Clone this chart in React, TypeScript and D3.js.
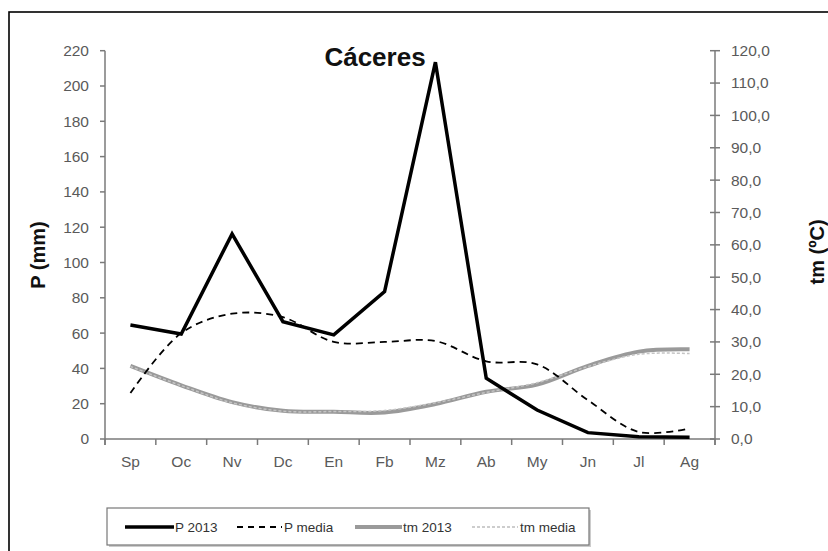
import React from "react";
import * as d3 from "d3";

const months = ["Sp", "Oc", "Nv", "Dc", "En", "Fb", "Mz", "Ab", "My", "Jn", "Jl", "Ag"];
const p2013 = [64.6, 59.5, 116.2, 66.5, 59, 83.5, 213.5, 34.4, 16.4, 3.6, 1.3, 1];
const pMedia = [26, 60, 71, 69, 55, 55, 55.5, 44, 42.3, 22, 4, 6];
const tm2013 = [22.6, 16.6, 11.4, 8.7, 8.4, 8.2, 10.8, 14.6, 16.8, 22.6, 27.0, 27.7];
const tmMedia = [22.4, 16.5, 11.2, 8.6, 8.5, 8.8, 11.2, 14.4, 17.4, 22.4, 26.2, 26.4];
const pTicks = [0, 20, 40, 60, 80, 100, 120, 140, 160, 180, 200, 220];
const tTicks = [0, 10, 20, 30, 40, 50, 60, 70, 80, 90, 100, 110, 120];
const legendItems = ["P 2013", "P media", "tm 2013", "tm media"];

export default function App() {
  const W = 828, H = 551;
  const left = 105, right = 715, top = 50.7, bottom = 439;
  const x = d3.scaleBand<string>().domain(months).range([left, right]);
  const yP = d3.scaleLinear().domain([0, 220]).range([bottom, top]);
  const yT = d3.scaleLinear().domain([0, 120]).range([bottom, top]);
  const cx = (i: number) => (x(months[i]) as number) + x.bandwidth() / 2;

  const lineLin = (vals: number[], y: d3.ScaleLinear<number, number>) =>
    d3.line<number>().x((_, i) => cx(i)).y((v) => y(v)).curve(d3.curveLinear)(vals) as string;
  const lineSmooth = (vals: number[], y: d3.ScaleLinear<number, number>) =>
    d3.line<number>().x((_, i) => cx(i)).y((v) => y(v)).curve(d3.curveCatmullRom.alpha(0.5))(vals) as string;

  const axisColor = "#7a7a7a";
  const tickText = "#5a5a5a";
  const font = "Arial, 'Liberation Sans', sans-serif";

  const bandEdges = months.map((m) => x(m) as number).concat([right]);

  const lg = { x: 107, y: 508, w: 482, h: 37 };
  const legendPos = [
    { x1: 125, x2: 174, tx: 175 },
    { x1: 237, x2: 282, tx: 284 },
    { x1: 355, x2: 402, tx: 403 },
    { x1: 472, x2: 518, tx: 520 },
  ];
  const legendStyles = [
    { stroke: "#000", width: 3.5, dash: "" },
    { stroke: "#000", width: 1.8, dash: "6,5" },
    { stroke: "#9a9a9a", width: 4, dash: "" },
    { stroke: "#bdbdbd", width: 1.5, dash: "3,2" },
  ];

  return (
    <svg width={W} height={H} style={{ position: "absolute", left: 0, top: 0, background: "#fff" }} fontFamily={font}>
      <rect x={0} y={0} width={W} height={H} fill="#fff" />
      <rect x={9} y={12} width={900} height={700} fill="none" stroke="#000" strokeWidth={1.6} />

      <text x={375} y={66} textAnchor="middle" fontSize={26} fontWeight="bold" fill="#111">Cáceres</text>

      <line x1={left} x2={left} y1={top} y2={bottom + 6} stroke={axisColor} strokeWidth={1.5} />
      {pTicks.map((t) => (
        <g key={"p" + t}>
          <line x1={left - 5} x2={left} y1={yP(t)} y2={yP(t)} stroke={axisColor} strokeWidth={1.5} />
          <text x={89} y={yP(t)} dy="0.35em" textAnchor="end" fontSize={15.5} fill={tickText}>{t}</text>
        </g>
      ))}
      <line x1={right} x2={right} y1={top} y2={bottom + 6} stroke={axisColor} strokeWidth={1.5} />
      {tTicks.map((t) => (
        <g key={"t" + t}>
          <line x1={right - 5} x2={right + 5} y1={yT(t)} y2={yT(t)} stroke={axisColor} strokeWidth={1.5} />
          <text x={731} y={yT(t)} dy="0.35em" textAnchor="start" fontSize={15.5} fill={tickText}>{t.toFixed(1).replace(".", ",")}</text>
        </g>
      ))}
      <line x1={left} x2={right} y1={bottom} y2={bottom} stroke={axisColor} strokeWidth={1.5} />
      {bandEdges.map((e, i) => (
        <line key={"e" + i} x1={e} x2={e} y1={bottom} y2={bottom + 6} stroke={axisColor} strokeWidth={1.5} />
      ))}
      {months.map((m, i) => (
        <text key={m} x={cx(i)} y={467} textAnchor="middle" fontSize={15.5} fill={tickText}>{m}</text>
      ))}

      <text transform={`translate(45,255) rotate(-90)`} textAnchor="middle" fontSize={20} fontWeight="bold" fill="#111">P (mm)</text>
      <text transform={`translate(824,252) rotate(-90)`} textAnchor="middle" fontSize={20} fontWeight="bold" fill="#111">tm (ºC)</text>

      <path d={lineSmooth(tm2013, yT)} fill="none" stroke="#9a9a9a" strokeWidth={4} />
      <path d={lineSmooth(tmMedia, yT)} fill="none" stroke="#c4c4c4" strokeWidth={1.5} strokeDasharray="3,2" />
      <path d={lineSmooth(pMedia, yP)} fill="none" stroke="#000" strokeWidth={1.8} strokeDasharray="7,5" />
      <path d={lineLin(p2013, yP)} fill="none" stroke="#000" strokeWidth={3.5} strokeLinejoin="miter" />

      <rect x={lg.x + 2} y={lg.y + 2} width={lg.w} height={lg.h} fill="#ccc" />
      <rect x={lg.x} y={lg.y} width={lg.w} height={lg.h} fill="#fff" stroke="#777" strokeWidth={1.2} />
      {legendItems.map((name, i) => (
        <g key={name}>
          <line x1={legendPos[i].x1} x2={legendPos[i].x2} y1={527} y2={527} stroke={legendStyles[i].stroke} strokeWidth={legendStyles[i].width} strokeDasharray={legendStyles[i].dash} />
          <text x={legendPos[i].tx} y={527} dy="0.35em" fontSize={13.5} fill="#333">{name}</text>
        </g>
      ))}
    </svg>
  );
}
